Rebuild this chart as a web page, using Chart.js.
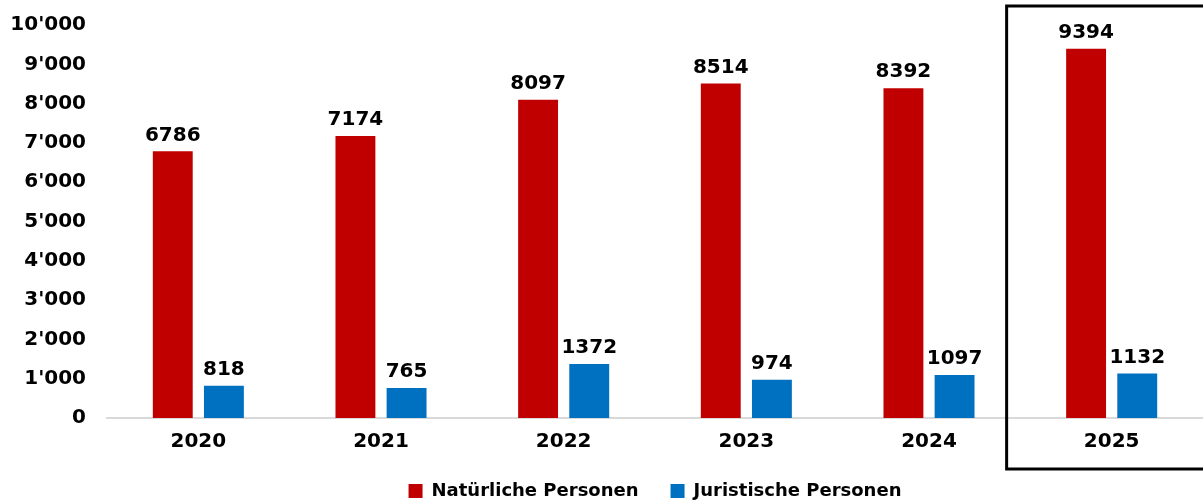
<!DOCTYPE html>
<html>
<head>
<meta charset="utf-8">
<script src="https://cdn.jsdelivr.net/npm/chart.js@4.4.1/dist/chart.umd.min.js"></script>
<style>
  html, body { margin: 0; padding: 0; background: #fff; }
  #wrap { width: 1203px; height: 502px; position: relative; }
</style>
</head>
<body>
<div id="wrap"><canvas id="c"></canvas></div>
<script>
// Jahre und Werte aus der Vorlage
const years       = ["2020", "2021", "2022", "2023", "2024", "2025"];
const natuerliche = [6786, 7174, 8097, 8514, 8392, 9394];
const juristische = [818, 765, 1372, 974, 1097, 1132];
const yMax  = 10000;
const yStep = 1000;

const FONT = "'DejaVu Sans', Verdana, sans-serif";

// 1000er-Trennzeichen mit Apostroph
const fmt = v => String(v).replace(/\B(?=(\d{3})+(?!\d))/g, "'");

// Werte über den Balken
const valueLabels = {
  id: "valueLabels",
  afterDatasetsDraw(chart) {
    const ctx = chart.ctx;
    ctx.save();
    ctx.font = "bold 20px " + FONT;
    ctx.fillStyle = "#000";
    ctx.textAlign = "center";
    ctx.textBaseline = "bottom";
    chart.data.datasets.forEach((ds, i) => {
      chart.getDatasetMeta(i).data.forEach((bar, j) => {
        ctx.fillText(String(ds.data[j]), bar.x, bar.y - 6);
      });
    });
    ctx.restore();
  }
};

// Legende über der Zeichenfläche zentrieren (nicht über die ganze Breite)
const legendOnArea = {
  id: "legendOnArea",
  afterLayout(chart) {
    const lg = chart.legend;
    if (!lg) return;
    lg.left  = chart.chartArea.left;
    lg.right = chart.chartArea.right;
  }
};

// Rahmen um das letzte Jahr
const highlightBox = {
  id: "highlightBox",
  afterDraw(chart) {
    const x = chart.scales.x;
    const idx = years.length - 1;
    const catW = (x.right - x.left) / years.length;
    const left = x.getPixelForValue(idx) - catW * 0.575;
    const ctx = chart.ctx;
    ctx.save();
    ctx.strokeStyle = "#000";
    ctx.lineWidth = 3;
    ctx.strokeRect(left, 6, chart.width - left + 4, 463);
    ctx.restore();
  }
};

new Chart(document.getElementById("c"), {
  type: "bar",
  data: {
    labels: years,
    datasets: [
      {
        label: "Natürliche Personen",
        data: natuerliche,
        backgroundColor: "#C00000",
        categoryPercentage: 0.56,
        barPercentage: 0.78,
      },
      {
        label: "Juristische Personen",
        data: juristische,
        backgroundColor: "#0070C0",
        categoryPercentage: 0.56,
        barPercentage: 0.78,
      },
    ],
  },
  options: {
    responsive: true,
    maintainAspectRatio: false,
    animation: false,
    layout: { padding: { top: 8, left: 12, right: 0, bottom: -8 } },
    scales: {
      x: {
        grid: { display: false },
        border: { display: true, color: "#d9d9d9", width: 2 },
        ticks: {
          color: "#000",
          padding: 4,
          font: { family: FONT, size: 20, weight: "bold" },
        },
        afterFit: s => { s.height = 32; },
      },
      y: {
        min: 0,
        max: yMax,
        grid: { display: false },
        border: { display: false },
        ticks: {
          stepSize: yStep,
          color: "#000",
          padding: 13,
          font: { family: FONT, size: 20, weight: "bold" },
          callback: v => fmt(v),
        },
        afterFit: s => { s.width = 95; },
      },
    },
    plugins: {
      legend: {
        position: "bottom",
        labels: {
          color: "#000",
          boxWidth: 14,
          boxHeight: 14,
          padding: 32,
          font: { family: FONT, size: 18, weight: "bold" },
        },
      },
      tooltip: { enabled: false },
    },
  },
  plugins: [valueLabels, legendOnArea, highlightBox],
});
</script>
</body>
</html>
